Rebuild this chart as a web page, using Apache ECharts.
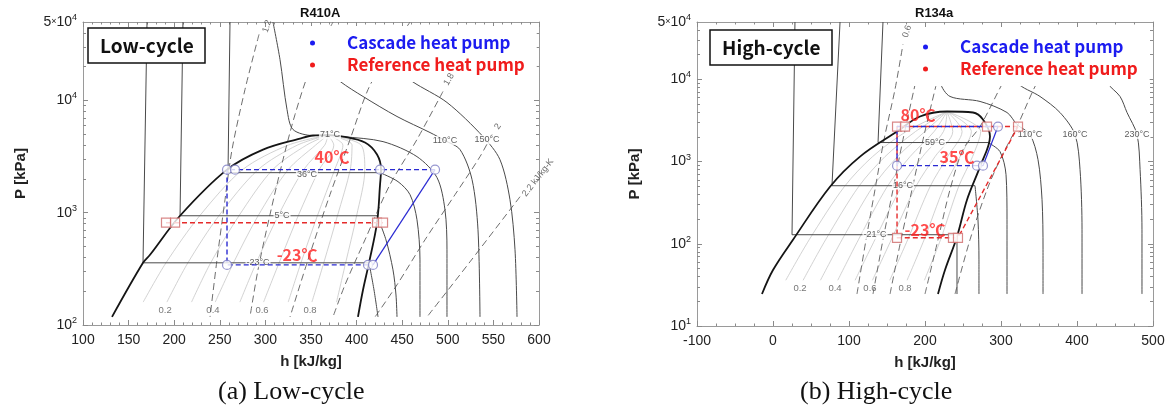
<!DOCTYPE html>
<html><head><meta charset="utf-8">
<script src="https://cdn.jsdelivr.net/npm/echarts@6/dist/echarts.min.js"></script>
<style>html,body{margin:0;padding:0;background:#fff}#c{width:1171px;height:407px}</style>
</head><body><div id="c"></div>
<script>
// ---------- axis tick values ----------
const lowYLabels = [100, 1000, 10000, 50000];
const lowYMajor = [100, 1000, 10000];
const lowYMinor = [200,300,400,500,600,700,800,900,2000,3000,4000,5000,6000,7000,8000,9000,20000,30000,40000];
const highYLabels = [10, 100, 1000, 10000, 50000];
const highYMajor = [10, 100, 1000, 10000];
const highYMinor = [20,30,40,50,60,70,80,90,200,300,400,500,600,700,800,900,2000,3000,4000,5000,6000,7000,8000,9000,20000,30000,40000];

// ---------- R410A (low-cycle) : [h kJ/kg, P kPa] ----------
const lowLiquid = [[131.8,118],[165.8,358],[173.5,422],[206.4,940],[257.9,2420],[297.4,3652],[337.9,4581],[352.2,4875],[368.6,4920]];
const lowVapor = [[368.6,4920],[385.1,4770],[409.2,4217],[422.4,3296],[426.8,2420],[425.7,1778],[422.4,815],[413.6,358],[407,205],[401.5,118]];
const lowIsoM23 = [[170.2,50000],[165.8,358],[413.6,358]];
const lowIsoM23Sh = [[413.6,358],[419.1,205],[423.5,118]];
const lowIso5 = [[209.6,50000],[206.4,940],[422.4,940]];
const lowIso5Sh = [[422.4,940],[432.2,574],[439.9,310],[443.2,185],[444.3,118]];
const lowIso36 = [[261.2,50000],[259,2275],[425.7,2275]];
const lowIso36Sh = [[425.7,2275],[445.4,1892],[458.6,1448],[466.2,866],[469.5,380],[469.5,118]];
const lowIso71 = [[308.3,50000],[316,23200],[323.7,8310],[330.3,5510],[352.2,4870],[368.6,4920],[385.1,4770],[429,4300],[466.2,3160],[488.2,2053],[496.9,1064],[499.1,468],[499.1,118]];
const lowIso110 = [[377,16700],[381.8,14800],[407,10860],[444.3,7200],[480.5,5180],[496.9,4395],[513.4,3650],[526.6,1970],[533.1,705],[535.3,118]];
const lowIso150 = [[456.4,16700],[460.8,14800],[499.1,9600],[538.6,4770],[557.2,2970],[568.2,1305],[573.7,468],[575.9,118]];
const lowS12 = [[293,38800],[277.6,12500],[263.4,3650],[255.7,1305],[246.9,380],[239.3,118]];
const lowS14 = [[374.1,50000],[348.9,18900],[332.5,7500],[319.3,2970],[305,960],[291.9,310],[283.1,118]];
const lowS16 = [[458.6,50000],[431.1,23200],[412.5,12500],[392.8,4490],[370.8,1448],[346.7,380],[327,118]];
const lowS18 = [[494.7,12020],[466.2,4490],[436.6,1780],[409.2,574],[387.3,228],[374.1,118]];
const lowS20 = [[548.5,4965],[535.3,3160],[507.9,1448],[475,574],[444.3,228],[420.2,118]];
const lowS22 = [[579.2,1390],[524.3,365],[477.2,118]];
const lowQ1 = [[166,160],[191,358],[228,940],[275,2420],[325,4000],[368.6,4920]];
const lowQ2 = [[192,160],[215,358],[249,940],[292,2420],[335,4000],[368.6,4920]];
const lowQ3 = [[219,160],[240,358],[271,940],[308,2420],[345,4000],[368.6,4920]];
const lowQ4 = [[245,160],[265,358],[292,940],[325,2420],[355,4000],[368.6,4920]];
const lowQ5 = [[272,160],[290,358],[314,940],[342,2420],[365,4000],[368.6,4920]];
const lowQ6 = [[298,160],[315,358],[336,940],[359,2420],[375,4000],[368.6,4920]];
const lowQ7 = [[325,160],[339,358],[357,940],[376,2420],[385,4000],[368.6,4920]];
const lowQ8 = [[351,160],[364,358],[379,940],[393,2420],[395,4000],[368.6,4920]];
const lowQ9 = [[378,160],[388,358],[400,940],[409,2420],[405,4000],[368.6,4920]];
const lowCascadeDashed = [[486,2420],[257.9,2420],[257.9,343],[418,343]];
const lowCascadeSolid = [[418,343],[486,2420]];
const lowCascadePoints = [[257.9,2420],[266.7,2420],[425.7,2420],[486,2420],[257.9,343],[412.5,343],[418,343]];
const lowRefDashed = [[191,815],[429,815]];
const lowRefPoints = [[191,815],[201,815],[422.4,815],[429,815]];
const lowIsoLabels = [[370.8,4940,'71°C'],[345.6,2200,'36°C'],[318.2,940,'5°C'],[291.9,358,'-23°C'],[496.9,4395,'110°C'],[543,4490,'150°C']];
const lowQualityLabels = [[190,136,'0.2'],[242.5,136,'0.4'],[296.3,136,'0.6'],[348.9,136,'0.8']];
const lowEntropyLabels = [[301.8,45800,'1.2'],[501.3,15400,'1.8'],[555,5860,'2'],[598.9,2053,'2.2 kJ/kg-K']];
const lowTempLabels = [[373,3160,'40℃'],[334.7,422,'-23℃']];

// ---------- R134a (high-cycle) ----------
const highLiquid = [[-14.5,24.5],[0,48],[26.3,112],[75,495],[114.5,1151],[163.2,2323],[193.4,3540],[229,4074]];
const highVapor = [[229,4074],[263.2,3960],[276.3,3250],[285.5,2018],[272.4,869],[255.3,344],[242.1,122],[226.3,48],[217.1,24.5]];
const highIsoM21 = [[28.9,50000],[25,129],[242.1,129],[242.1,24.5]];
const highIso16 = [[88.2,50000],[77.6,509],[265.8,509]];
const highIso16Sh = [[265.8,509],[269.7,196],[271,63.8],[271,24.5]];
const highIso59 = [[144.7,50000],[138.2,1707],[282.9,1707]];
const highIso59Sh = [[282.9,1707],[298.7,1325],[306.6,693],[307.9,196],[307.9,24.5]];
const highIso110 = [[215.8,17500],[219.7,9180],[232.9,6210],[272.4,5400],[307.9,3960],[321.1,2825],[338.2,2134],[348.7,1057],[354,344],[355.3,84.5],[355.3,24.5]];
const highIso160 = [[318,14000],[321.1,9180],[351.3,6210],[377.6,3960],[397.4,2134],[404,798],[406.6,148],[406.6,24.5]];
const highIso230 = [[436,14000],[439.5,9180],[456.6,6210],[465.8,3960],[479,2134],[483,798],[485.5,148],[485.5,24.5]];
const highSa = [[110.5,24.5],[122.4,112],[134.2,456],[146.1,1854],[160.5,7550],[171,26700]];
const highSb = [[131.6,24.5],[144.7,112],[157.9,456],[171,1854],[185.5,7550],[200,30760]];
const highSc = [[154,24.5],[168.4,112],[182.9,456],[197.4,1854],[213.2,7550],[229,30760]];
const highSd = [[200,24.5],[217.1,112],[232.9,456],[250,1400],[272.4,2673],[302.6,9180],[325,20200]];
const highSe = [[239.5,24.5],[259.2,112],[281.6,456],[298.7,1057],[321.1,2673],[347.4,9180],[371,20200]];
const highQ1 = [[16.8,36],[47.6,112],[93.8,495],[131,1151],[175.3,2323],[229,4074]];
const highQ2 = [[39.6,36],[69.2,112],[112.6,495],[147.4,1151],[187.5,2323],[229,4074]];
const highQ3 = [[62.4,36],[90.8,112],[131.4,495],[163.9,1151],[199.8,2323],[229,4074]];
const highQ4 = [[85.2,36],[112.4,112],[150.2,495],[180.3,1151],[212,2323],[229,4074]];
const highQ5 = [[108,36],[134,112],[169,495],[196.8,1151],[224.3,2323],[229,4074]];
const highQ6 = [[130.8,36],[155.6,112],[187.8,495],[213.2,1151],[236.5,2323],[229,4074]];
const highQ7 = [[153.6,36],[177.2,112],[206.6,495],[229.7,1151],[248.8,2323],[229,4074]];
const highQ8 = [[176.4,36],[198.8,112],[225.4,495],[246.1,1151],[261,2323],[229,4074]];
const highQ9 = [[199.2,36],[220.4,112],[244.2,495],[262.6,1151],[273.3,2323],[229,4074]];
const highRefDashed = [[322.4,2673],[163.2,2673],[163.2,118.4],[243.4,118.4],[322.4,2673]];
const highRefPoints = [[163.2,2673],[173.7,2673],[281.6,2673],[322.4,2673],[163.2,118.4],[236.8,118.4],[243.4,118.4]];
const highCascadeDashed = [[296,2673],[163.2,2673],[163.2,893],[276.3,893]];
const highCascadeSolid = [[276.3,893],[296,2673]];
const highCascadePoints = [[163.2,893],[268.4,893],[276.3,893],[296,2673]];
const highIsoLabels = [[134.2,129,'-21°C'],[171,509,'16°C'],[213.2,1707,'59°C'],[338.2,2134,'110°C'],[397.4,2134,'160°C'],[479,2134,'230°C']];
const highQualityLabels = [[35.5,29,'0.2'],[81.6,29,'0.4'],[127.6,29,'0.6'],[173.7,29,'0.8']];
const highEntropyLabels = [[176.3,38500,'0.6']];
const highTempLabels = [[190.8,3740,'80℃'],[242.1,1151,'35℃'],[200,148,'-23℃']];

// ---------- styles ----------
const FONT = "'Liberation Sans', Arial, sans-serif";
const KFONT = "'Noto Sans CJK KR', 'Noto Sans', sans-serif";
const BLUE = '#2a2ad2', RED = '#e52b2b';
const lowEntropyRot = [72, 60, 56, 52];
const highEntropyRot = [72];

function ax(g) { return g ? {xAxisIndex: 2, yAxisIndex: 4} : {xAxisIndex: 0, yAxisIndex: 0}; }
function line(data, g, color, width, type, z, smooth, name) {
  return Object.assign({type: 'line', name: name, data: data, showSymbol: false, symbol: 'none',
    smooth: smooth || false, lineStyle: {color: color, width: width, type: type || 'solid'},
    z: z, silent: true, clip: true}, ax(g));
}
function marks(data, g, symbol, border, name) {
  return Object.assign({type: 'scatter', name: name, data: data, symbol: symbol, symbolSize: 9,
    itemStyle: {color: '#fff', borderColor: border, borderWidth: 1.2}, z: 8, silent: true}, ax(g));
}
function texts(items, g, style, rots, z) {
  return Object.assign({type: 'scatter', symbolSize: 1, itemStyle: {color: 'rgba(0,0,0,0)'},
    data: items.map((d, i) => ({value: [d[0], d[1]], name: d[2], label: {rotate: rots ? rots[i] : 0}})),
    label: Object.assign({show: true, position: 'inside', formatter: '{b}'}, style),
    z: z || 9, silent: true}, ax(g));
}
const isoLabelStyle = {fontSize: 9, color: '#333', fontFamily: FONT, backgroundColor: '#fff', padding: [0, 1], lineHeight: 9};
const qLabelStyle = {fontSize: 9.5, color: '#555', fontFamily: FONT};
const sLabelStyle = {fontSize: 9, color: '#444', fontFamily: FONT};
const tLabelStyle = {fontSize: 16, fontWeight: 'bold', color: '#ff1f1f', fontFamily: KFONT};

const series = [];
[lowQ1,lowQ2,lowQ3,lowQ4,lowQ5,lowQ6,lowQ7,lowQ8,lowQ9].forEach(d => series.push(line(d, 0, '#c6c6c6', 0.8, 'solid', 1, 0.3)));
[highQ1,highQ2,highQ3,highQ4,highQ5,highQ6,highQ7,highQ8,highQ9].forEach(d => series.push(line(d, 1, '#c6c6c6', 0.8, 'solid', 1, 0.3)));
[lowS12,lowS14,lowS16,lowS18,lowS20,lowS22].forEach(d => series.push(line(d, 0, '#6e6e6e', 1, [7, 4], 2, 0.3)));
[highSa,highSb,highSc,highSd,highSe].forEach(d => series.push(line(d, 1, '#6e6e6e', 1, [7, 4], 2, 0.3)));
[lowIsoM23,lowIso5,lowIso36].forEach(d => series.push(line(d, 0, '#4a4a4a', 1, 'solid', 3, false)));
[lowIsoM23Sh,lowIso5Sh,lowIso36Sh,lowIso71,lowIso110,lowIso150].forEach(d => series.push(line(d, 0, '#4a4a4a', 1, 'solid', 3, 0.3)));
[highIsoM21,highIso16,highIso59].forEach(d => series.push(line(d, 1, '#4a4a4a', 1, 'solid', 3, false)));
[highIso16Sh,highIso59Sh,highIso110,highIso160,highIso230].forEach(d => series.push(line(d, 1, '#4a4a4a', 1, 'solid', 3, 0.3)));
series.push(line(lowLiquid.concat(lowVapor.slice(1)), 0, '#151515', 1.8, 'solid', 4, 0.35));
series.push(line(highLiquid.concat(highVapor.slice(1)), 1, '#151515', 1.8, 'solid', 4, 0.35));
series.push(texts(lowIsoLabels, 0, isoLabelStyle, null, 5));
series.push(texts(highIsoLabels, 1, isoLabelStyle, null, 5));
series.push(line(lowRefDashed, 0, RED, 1.4, [5, 3], 6, false, 'Reference heat pump'));
series.push(line(highRefDashed, 1, RED, 1.4, [5, 3], 6, false, 'Reference heat pump'));
series.push(line(lowCascadeDashed, 0, BLUE, 1.4, [5, 3], 7, false, 'Cascade heat pump'));
series.push(line(lowCascadeSolid, 0, BLUE, 1.2, 'solid', 7, false, 'Cascade heat pump'));
series.push(line(highCascadeDashed, 1, BLUE, 1.4, [5, 3], 7, false, 'Cascade heat pump'));
series.push(line(highCascadeSolid, 1, BLUE, 1.2, 'solid', 7, false, 'Cascade heat pump'));
series.push(marks(lowCascadePoints, 0, 'circle', '#7d7dc4', 'Cascade heat pump'));
series.push(marks(highCascadePoints, 1, 'circle', '#7d7dc4', 'Cascade heat pump'));
series.push(marks(lowRefPoints, 0, 'rect', '#d06a6a', 'Reference heat pump'));
series.push(marks(highRefPoints, 1, 'rect', '#d06a6a', 'Reference heat pump'));
series.push(texts(lowQualityLabels, 0, qLabelStyle));
series.push(texts(highQualityLabels, 1, qLabelStyle));
series.push(texts(lowEntropyLabels, 0, sLabelStyle, lowEntropyRot));
series.push(texts(highEntropyLabels, 1, sLabelStyle, highEntropyRot));
series.push(texts(lowTempLabels, 0, tLabelStyle));
series.push(texts(highTempLabels, 1, tLabelStyle));

function xAx(g, pos, min, max, interval, split, show, name) {
  return {type: 'value', gridIndex: g, position: pos, min: min, max: max, interval: interval,
    axisLine: {show: true, onZero: false, lineStyle: {color: '#9a9a9a', width: 1}},
    axisTick: {show: true, inside: true, length: 5, lineStyle: {color: '#8a8a8a'}},
    minorTick: {show: true, splitNumber: split, length: 2.5, lineStyle: {color: '#8a8a8a'}},
    splitLine: {show: false}, minorSplitLine: {show: false},
    axisLabel: {show: show, color: '#222', fontSize: 14, fontFamily: FONT, margin: 8},
    name: name || '', nameLocation: 'middle', nameGap: 29,
    nameTextStyle: {fontSize: 15, fontWeight: 'bold', color: '#222', fontFamily: FONT}};
}
const rich = {
  n: {fontSize: 14, color: '#222', fontFamily: FONT, lineHeight: 18},
  x: {fontSize: 9, color: '#222', fontFamily: FONT, lineHeight: 18},
  s: {fontSize: 9, color: '#222', fontFamily: FONT, lineHeight: 10, verticalAlign: 'top'}
};
function logFmt(v) {
  if (Math.abs(v - 50000) < 1) return '{n|5}{x|×}{n|10}{s|4}';
  return '{n|10}{s|' + Math.round(Math.log10(v)) + '}';
}
function yAx(g, pos, min, max, ticks, len, labels, line, name) {
  return {type: 'log', logBase: 10, gridIndex: g, position: pos, min: min, max: max,
    axisLine: {show: line, onZero: false, lineStyle: {color: '#9a9a9a', width: 1}},
    axisTick: {show: true, inside: true, length: len, customValues: ticks, lineStyle: {color: '#8a8a8a'}},
    minorTick: {show: false}, splitLine: {show: false},
    axisLabel: labels ? {show: true, customValues: labels, formatter: logFmt, rich: rich, margin: 6} : {show: false},
    name: name || '', nameLocation: 'middle', nameGap: 55, nameRotate: 90,
    nameTextStyle: {fontSize: 15, fontWeight: 'bold', color: '#222', fontFamily: FONT}};
}

function legendFor(left, top) {
  return {left: left, top: top, orient: 'vertical', backgroundColor: '#fff', padding: [6, 12, 6, 14],
    itemWidth: 5, itemHeight: 5, itemGap: 0, icon: 'circle', selectedMode: false,
    textStyle: {fontSize: 17, fontWeight: 'bold', fontFamily: KFONT, lineHeight: 22, padding: [0, 0, 0, 27]},
    data: [
      {name: 'Cascade heat pump', itemStyle: {color: '#1c1cf0'}, textStyle: {color: '#1c1cf0'}},
      {name: 'Reference heat pump', itemStyle: {color: '#f01c1c'}, textStyle: {color: '#f01c1c'}}
    ]};
}
const boxTitle = {fontSize: 19, fontWeight: 'bold', color: '#111', fontFamily: KFONT, lineHeight: 25};
const capTitle = {fontSize: 26, fontWeight: 'normal', color: '#111', fontFamily: "'Liberation Serif', 'Times New Roman', serif", lineHeight: 26};
const refTitle = {fontSize: 13, fontWeight: 'bold', color: '#111', fontFamily: FONT};

const option = {
  animation: false,
  backgroundColor: '#fff',
  title: [
    {text: 'R410A', left: 300, top: 7, padding: 0, textStyle: refTitle},
    {text: 'R134a', left: 915, top: 7, padding: 0, textStyle: refTitle},
    {text: 'Low-cycle', left: 88, top: 28, padding: [5, 12, 5, 12], borderColor: '#111', borderWidth: 1.5, backgroundColor: '#fff', textStyle: boxTitle},
    {text: 'High-cycle', left: 710, top: 30, padding: [5, 12, 5, 12], borderColor: '#111', borderWidth: 1.5, backgroundColor: '#fff', textStyle: boxTitle},
    {text: '(a) Low-cycle', left: 218, top: 379, padding: 0, textStyle: capTitle},
    {text: '(b) High-cycle', left: 800, top: 379, padding: 0, textStyle: capTitle}
  ],
  legend: [legendFor(296, 26), legendFor(909, 30)],
  grid: [
    {left: 83, top: 22, width: 456, height: 303},
    {left: 697, top: 22, width: 456, height: 304}
  ],
  xAxis: [
    xAx(0, 'bottom', 100, 600, 50, 5, true, 'h [kJ/kg]'),
    xAx(0, 'top', 100, 600, 50, 5, false),
    xAx(1, 'bottom', -100, 500, 100, 4, true, 'h [kJ/kg]'),
    xAx(1, 'top', -100, 500, 100, 4, false)
  ],
  yAxis: [
    yAx(0, 'left', 100, 50000, lowYMajor, 5, lowYLabels, true, 'P [kPa]'),
    yAx(0, 'left', 100, 50000, lowYMinor, 3, null, false),
    yAx(0, 'right', 100, 50000, lowYMajor, 5, null, true),
    yAx(0, 'right', 100, 50000, lowYMinor, 3, null, false),
    yAx(1, 'left', 10, 50000, highYMajor, 5, highYLabels, true, 'P [kPa]'),
    yAx(1, 'left', 10, 50000, highYMinor, 3, null, false),
    yAx(1, 'right', 10, 50000, highYMajor, 5, null, true),
    yAx(1, 'right', 10, 50000, highYMinor, 3, null, false)
  ],
  series: series
};
const chart = echarts.init(document.getElementById('c'));
chart.setOption(option);
</script></body></html>
